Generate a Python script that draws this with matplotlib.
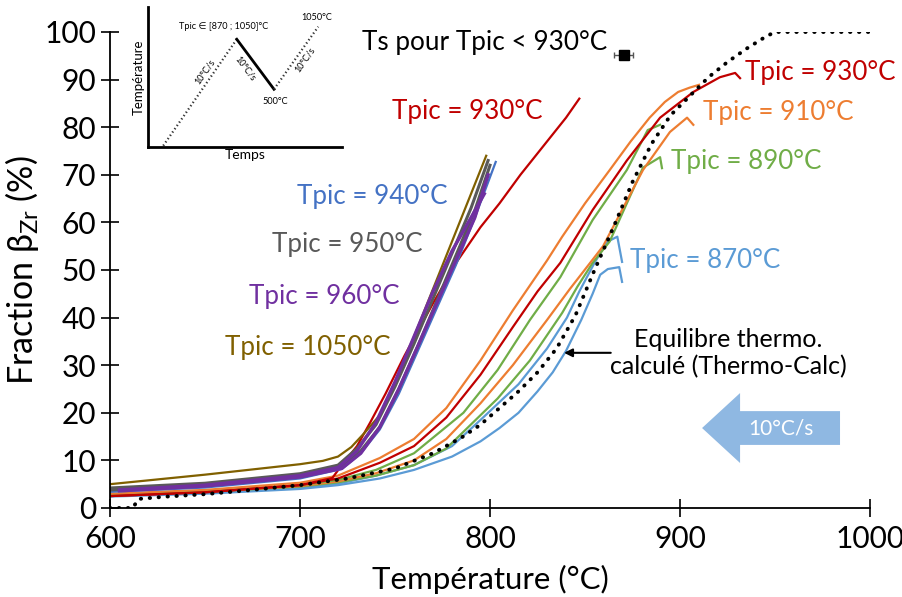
import matplotlib
matplotlib.use("Agg")
import matplotlib.pyplot as plt
from matplotlib.patches import FancyArrow

plt.rcParams["font.family"] = ["Lato", "DejaVu Sans"]
plt.rcParams["mathtext.default"] = "regular"

# Couleurs (palette Office)
RED = "#C00000"
ORANGE = "#ED7D31"
GREEN = "#70AD47"
LIGHT_BLUE = "#5B9BD5"
BLUE = "#4472C4"
GRAY = "#595959"
PURPLE = "#7030A0"
OLIVE = "#806000"
ARROW_BLUE = "#8FB8E2"
LW = 1.6

# Equilibre thermodynamique (Thermo-Calc)
eq_T = [600, 612, 615, 630, 650, 675, 700, 725, 750, 770, 785, 795, 805, 815, 825, 835, 845, 855, 865, 875, 885, 895, 905, 915, 925, 935, 945, 950, 1000]
eq_F = [0, 0, 1.9, 2.4, 2.9, 3.8, 4.8, 6.2, 8.3, 11.5, 14.8, 17.5, 21, 24.5, 28.5, 33.5, 40.5, 50, 59, 68.5, 76.5, 82.5, 86.5, 90.5, 93.7, 96.5, 99, 100, 100]

# Tpic < 930 °C (faisceau de droite)
orange_a_T = [600, 650, 700, 720, 742, 760, 777, 795, 812, 830, 838, 850, 863, 874, 884, 892, 899, 905, 910]
orange_a_F = [3.0, 3.8, 5.3, 6.8, 10.5, 14.5, 21, 31, 41.5, 52, 57, 64, 71, 77, 82, 85.3, 87.4, 88.3, 88.9]

red_b_T = [600, 650, 700, 720, 742, 760, 777, 795, 812, 825, 837, 854, 872, 889.5, 907, 921, 929, 931.6]
red_b_F = [2.5, 3.3, 4.8, 6.2, 9.5, 13, 19, 28, 38, 45.5, 51.5, 62.6, 73, 82, 87.4, 90.5, 91.4, 90.3]

green_a_T = [600, 650, 700, 720, 740, 760, 786, 804, 821, 837, 854, 872, 883, 889.5]
green_a_F = [2.8, 3.5, 4.8, 5.9, 8, 11.5, 20, 29, 39.5, 48.5, 60.5, 71, 79.4, 80.5]

orange_b_T = [600, 650, 700, 720, 740, 760, 777, 795, 812, 830, 842, 859.5, 880.5, 894.7, 903.7, 907]
orange_b_F = [2.7, 3.4, 4.6, 5.6, 7.3, 10, 14.5, 22, 30, 39.5, 46, 55, 71, 79, 82, 80.5]

green_b_T = [600, 650, 700, 720, 740, 760, 777, 795, 804, 821, 838, 846, 854, 863, 872, 880.5, 889.5, 890.5]
green_b_F = [2.7, 3.4, 4.5, 5.4, 6.8, 9, 12.5, 19.5, 23, 31, 41, 46.5, 51.5, 56, 64, 71.5, 73.7, 71.4]

blue_a_T = [600, 650, 700, 720, 740, 760, 780, 795, 815, 830, 840.5, 847, 855, 861.6, 867, 869.5]
blue_a_F = [2.5, 3.2, 4.3, 5.1, 6.8, 9, 13, 18.5, 26, 33.5, 40, 45.5, 51.5, 55.9, 57, 51.7]

blue_b_T = [600, 650, 700, 720, 742, 760, 780, 795, 805, 815, 825, 833, 840, 848, 854, 858, 862, 868, 869.5]
blue_b_F = [2.4, 3.0, 4.0, 4.8, 6.2, 8, 10.8, 14, 16.8, 20, 24.5, 28.5, 33, 39.5, 45, 49, 50.2, 50.6, 47.5]

# Tpic >= 930 °C (faisceau de gauche)
red_a_T = [600, 650, 700, 717, 722, 730, 737, 745, 755, 770, 783, 795, 805, 816, 830, 840, 847]
red_a_F = [2.5, 3.3, 4.8, 6.3, 9, 13, 18, 24, 32, 43, 52, 59, 64, 70, 77, 82, 86]

olive_T = [600, 650, 700, 712, 720, 727, 734, 742, 751, 760, 770, 780, 790, 798]
olive_F = [5.0, 7.0, 9.2, 9.9, 10.8, 12.8, 15.8, 19.5, 27, 36, 46, 56, 66, 74]

gray1_T = [600, 650, 700, 720, 730, 740, 750, 760, 770, 780, 790, 799]
gray1_F = [4.2, 5.2, 7.2, 9, 12.5, 17.5, 25.5, 34.5, 44, 53.5, 63, 73]
gray2_T = [600, 650, 700, 722, 732, 742, 752, 762, 772, 782, 792, 800]
gray2_F = [3.8, 4.8, 6.8, 8.7, 12, 17, 25, 34, 43.5, 53, 62.5, 72]

blue940_T = [600, 650, 700, 722, 732, 742, 752, 762, 772, 782, 792, 803]
blue940_F = [3.4, 4.3, 6.2, 8.2, 11.5, 16.5, 24, 33, 42, 51, 61, 72.7]

purple1_T = [605, 650, 700, 720, 730, 740, 750, 760, 770, 780, 790, 797]
purple1_F = [3.8, 4.8, 6.8, 8.5, 12, 18, 26.5, 36, 45.5, 54, 61, 66]
purple2_T = [605, 650, 700, 722, 732, 742, 752, 762, 772, 782, 792, 799]
purple2_F = [3.6, 4.6, 6.5, 8.3, 11.5, 17, 25, 34, 43, 52, 61, 70]

# Ts pour Tpic < 930 °C
ts_T, ts_F, ts_err = [870.5], [95.2], [5]

# Schema du cycle thermique (encart, unites arbitraires)
heat_t, heat_T = [0.08, 0.459], [0.007, 0.769]
cool_t, cool_T = [0.459, 0.651], [0.769, 0.411]
reheat_t, reheat_T = [0.651, 0.879], [0.411, 0.859]

fig = plt.figure(figsize=(9.03, 5.97), dpi=100)
ax = fig.add_axes([0.1218, 0.1491, 0.8417, 0.7973])

ax.plot(blue_b_T, blue_b_F, color=LIGHT_BLUE, lw=LW)
ax.plot(blue_a_T, blue_a_F, color=LIGHT_BLUE, lw=LW)
ax.plot(green_b_T, green_b_F, color=GREEN, lw=LW)
ax.plot(orange_b_T, orange_b_F, color=ORANGE, lw=LW)
ax.plot(green_a_T, green_a_F, color=GREEN, lw=LW)
ax.plot(red_b_T, red_b_F, color=RED, lw=LW)
ax.plot(orange_a_T, orange_a_F, color=ORANGE, lw=LW)

ax.plot(red_a_T, red_a_F, color=RED, lw=LW)
ax.plot(olive_T, olive_F, color=OLIVE, lw=LW)
ax.plot(blue940_T, blue940_F, color=BLUE, lw=LW)
ax.plot(gray1_T, gray1_F, color=GRAY, lw=2.2)
ax.plot(gray2_T, gray2_F, color=GRAY, lw=2.2)
ax.plot(purple1_T, purple1_F, color=PURPLE, lw=2.4)
ax.plot(purple2_T, purple2_F, color=PURPLE, lw=2.4)

ax.plot(eq_T, eq_F, color="black", lw=2.8, linestyle=(0, (0.1, 2.2)), dash_capstyle="round")

ax.errorbar(ts_T, ts_F, xerr=ts_err, fmt="s", color="black", ms=7,
            ecolor="#555555", elinewidth=1, capsize=2.5)

ax.set_xlim(600, 1000)
ax.set_ylim(0, 100)
ax.set_xticks(range(600, 1001, 100))
ax.set_yticks(range(0, 101, 10))
ax.tick_params(direction="inout", length=13, width=1.2, labelsize=21.5, color="black")
ax.tick_params(axis="x", pad=6)
for side in ("top", "right"):
    ax.spines[side].set_visible(False)
for side in ("left", "bottom"):
    ax.spines[side].set_linewidth(1.3)
ax.set_xlabel("Température (°C)", fontsize=22.5, labelpad=8)
ax.set_ylabel(r"Fraction $\beta_{Zr}$ (%)", fontsize=24.5, labelpad=2)

# Etiquettes
lab = dict(ha="center", va="center", fontsize=18.7)
ax.text(788, 83.2, "Tpic = 930°C", color=RED, **lab)
ax.text(738, 65.5, "Tpic = 940°C", color=BLUE, **lab)
ax.text(725, 55.3, "Tpic = 950°C", color=GRAY, **lab)
ax.text(713, 44.5, "Tpic = 960°C", color=PURPLE, **lab)
ax.text(704, 33.8, "Tpic = 1050°C", color=OLIVE, **lab)
ax.text(974, 91.4, "Tpic = 930°C", color=RED, **lab)
ax.text(951.6, 83, "Tpic = 910°C", color=ORANGE, **lab)
ax.text(935, 72.7, "Tpic = 890°C", color=GREEN, **lab)
ax.text(913, 51.9, "Tpic = 870°C", color=LIGHT_BLUE, **lab)
ax.text(797, 97.7, "Ts pour Tpic < 930°C", ha="center", va="center", fontsize=18.8, color="black")

ax.text(925.3, 32.6, "Equilibre thermo.\ncalculé (Thermo-Calc)", ha="center", va="center",
        fontsize=18, linespacing=1.2)
ax.annotate("", xy=(837.5, 32.6), xytext=(865, 32.6),
            arrowprops=dict(arrowstyle="-|>", color="black", lw=1.5, mutation_scale=12))

ax.add_patch(FancyArrow(984.2, 16.8, -72.6, 0, width=7.1, head_width=14.7, head_length=20,
                        length_includes_head=True, color=ARROW_BLUE, lw=0))
ax.text(953, 16.8, "10°C/s", ha="center", va="center", fontsize=15, color="white")

# Encart : cycle thermique
ax_in = fig.add_axes([0.1636, 0.7543, 0.2148, 0.234])
ax_in.patch.set_alpha(0)
ax_in.set_xlim(0, 1)
ax_in.set_ylim(0, 1)
ax_in.set_xticks([])
ax_in.set_yticks([])
for side in ("top", "right"):
    ax_in.spines[side].set_visible(False)
for side in ("left", "bottom"):
    ax_in.spines[side].set_linewidth(2)
ax_in.plot(heat_t, heat_T, color="#333333", lw=1.6, linestyle=(0, (0.6, 1.2)))
ax_in.plot(cool_t, cool_T, color="black", lw=2)
ax_in.plot(reheat_t, reheat_T, color="#333333", lw=1.6, linestyle=(0, (0.6, 1.2)))
ax_in.set_xlabel("Temps", fontsize=10, labelpad=2)
ax_in.set_ylabel("Température", fontsize=9.5, labelpad=2)
small = dict(ha="center", va="center", fontsize=6.6)
ax_in.text(0.39, 0.859, "Tpic ∈ [870 ; 1050]°C", **small)
ax_in.text(0.871, 0.926, "1050°C", **small)
ax_in.text(0.656, 0.322, "500°C", **small)
ax_in.text(0.295, 0.537, "10°C/s", rotation=55, **small)
ax_in.text(0.502, 0.563, "10°C/s", rotation=-53, **small)
ax_in.text(0.811, 0.621, "10°C/s", rotation=55, **small)

fig.savefig("out.png", dpi=100)
